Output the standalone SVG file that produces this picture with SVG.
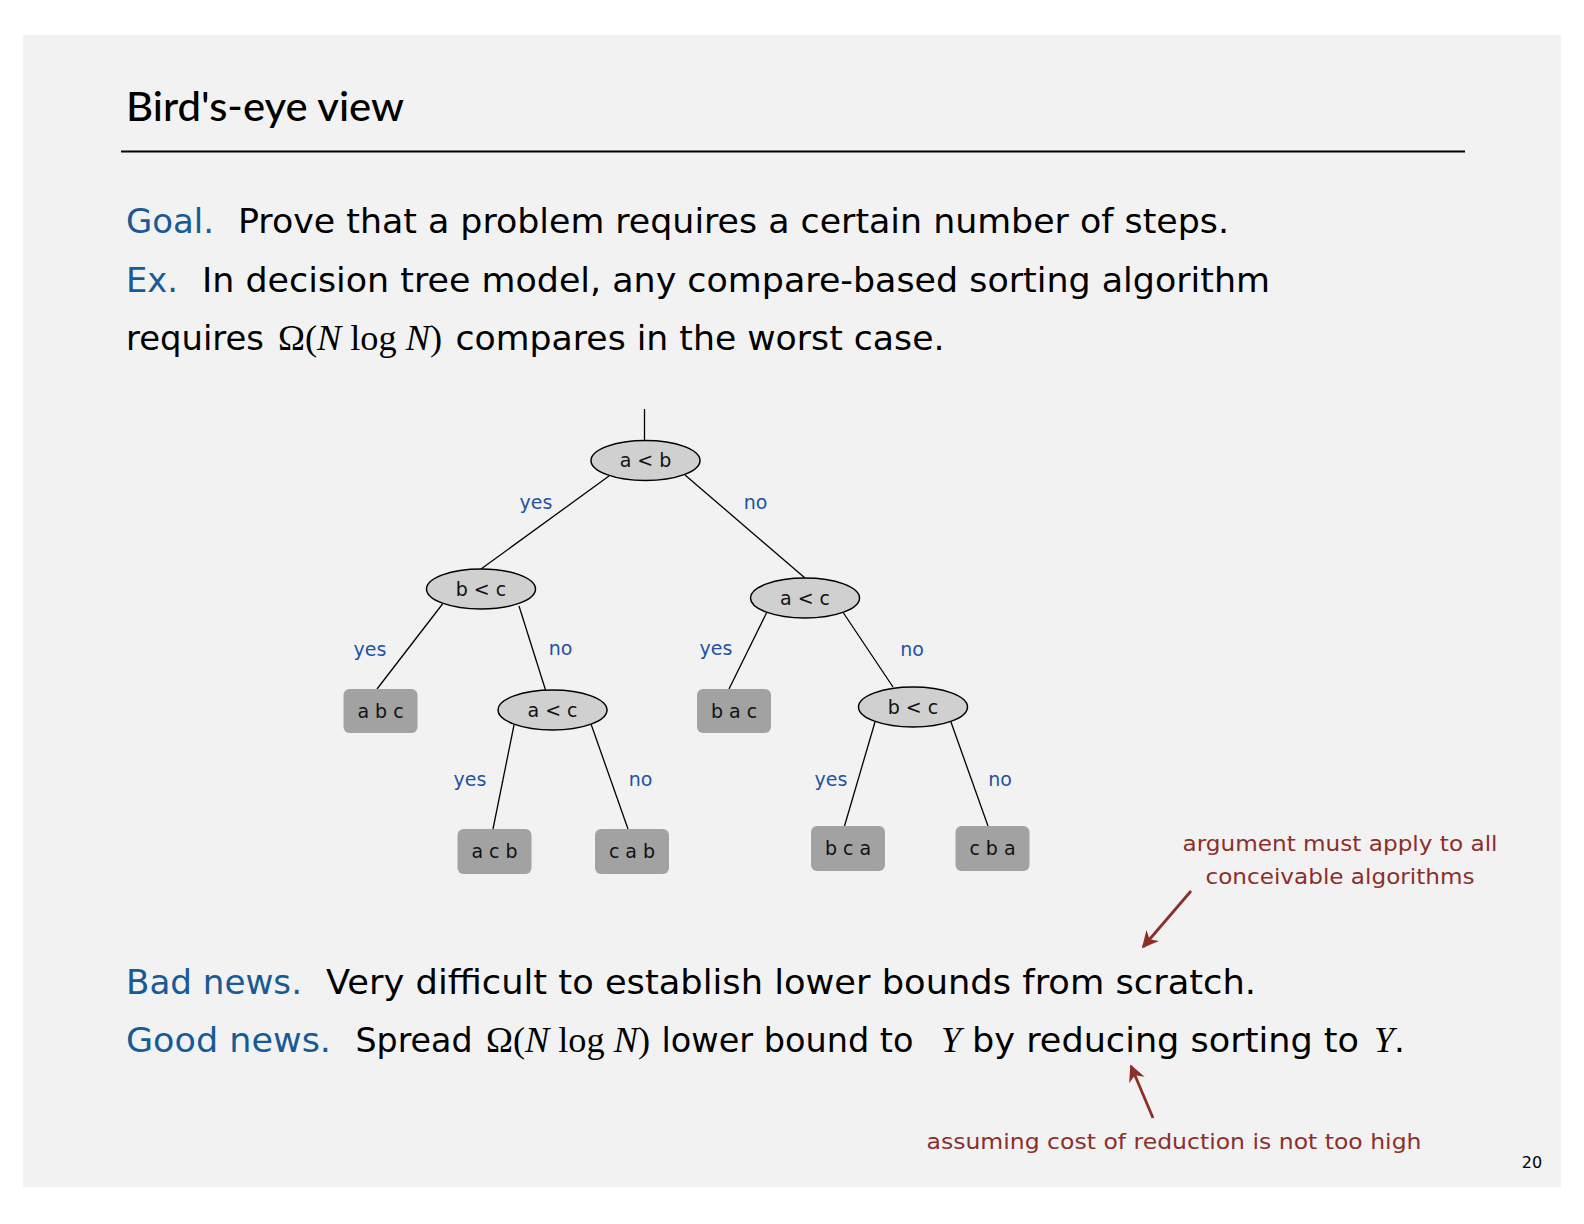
<svg xmlns="http://www.w3.org/2000/svg" width="1584" height="1224" viewBox="0 0 1584 1224">
<defs>
<style>
.body{font-family:"DejaVu Sans","Liberation Sans",sans-serif;font-size:34px;fill:#000}
.head{font-family:"DejaVu Sans","Liberation Sans",sans-serif;font-size:34px;fill:#175a96}
.math{font-family:"Liberation Serif","Times New Roman",serif;font-size:36px;fill:#000}
.lbl{font-family:"DejaVu Sans","Liberation Sans",sans-serif;font-size:19px;fill:#1f52a6;text-anchor:middle}
.nt{font-family:"DejaVu Sans","Liberation Sans",sans-serif;font-size:19px;fill:#111;text-anchor:middle}
.ann{font-family:"DejaVu Sans","Liberation Sans",sans-serif;font-size:22px;fill:#8c2f2a;text-anchor:middle}
.ell{fill:#d0d0d0;stroke:#000;stroke-width:1.5}
.leaf{fill:#a2a2a2}
.edge{stroke:#000;stroke-width:1.3;fill:none}
.arr{stroke:#8c2f2a;stroke-width:2.8;fill:none;marker-end:url(#ah)}
</style>
<marker id="ah" viewBox="0 0 10 10" refX="9" refY="5" markerWidth="6" markerHeight="6" orient="auto" markerUnits="strokeWidth">
<path d="M0,0 L10,5 L0,10 L3,5 z" fill="#8c2f2a"/>
</marker>
</defs>
<rect x="0" y="0" width="1584" height="1224" fill="#ffffff"/>
<rect x="23" y="35" width="1538" height="1152" fill="#f2f2f2"/>

<g id="title">
<text x="126" y="121" font-family="Lato,'Open Sans',sans-serif" font-size="40" font-weight="500" textLength="278" lengthAdjust="spacingAndGlyphs">Bird's-eye view</text>
<line x1="121" y1="151.5" x2="1465" y2="151.5" stroke="#000" stroke-width="2"/>
</g>

<g id="text-top">
<text class="head" x="126" y="233" textLength="88" lengthAdjust="spacingAndGlyphs">Goal.</text>
<text class="body" x="238" y="233" textLength="991" lengthAdjust="spacingAndGlyphs">Prove that a problem requires a certain number of steps.</text>
<text class="head" x="126" y="292" textLength="52" lengthAdjust="spacingAndGlyphs">Ex.</text>
<text class="body" x="202" y="292" textLength="1068" lengthAdjust="spacingAndGlyphs">In decision tree model, any compare-based sorting algorithm</text>
<text class="body" x="126" y="350" textLength="138" lengthAdjust="spacingAndGlyphs">requires</text>
<text class="math" x="278" y="350" textLength="164" lengthAdjust="spacingAndGlyphs">Ω(<tspan font-style="italic">N</tspan> log <tspan font-style="italic">N</tspan>)</text>
<text class="body" x="455.5" y="350" textLength="489" lengthAdjust="spacingAndGlyphs">compares in the worst case.</text>
</g>

<g id="connectors">
<line class="edge" x1="644.5" y1="409" x2="644.5" y2="440"/>
<line class="edge" x1="609" y1="476" x2="481" y2="569"/>
<line class="edge" x1="685" y1="475" x2="805" y2="578"/>
<line class="edge" x1="442.5" y1="604" x2="377" y2="689"/>
<line class="edge" x1="519" y1="606" x2="545.5" y2="690"/>
<line class="edge" x1="767" y1="612" x2="729" y2="689"/>
<line class="edge" x1="843.5" y1="613" x2="893" y2="687"/>
<line class="edge" x1="514" y1="725" x2="493" y2="829"/>
<line class="edge" x1="591" y1="724" x2="628" y2="829"/>
<line class="edge" x1="875" y1="722" x2="844.5" y2="826"/>
<line class="edge" x1="950.6" y1="721" x2="988" y2="826"/>
<text class="lbl" x="536" y="509">yes</text>
<text class="lbl" x="755.5" y="509">no</text>
<text class="lbl" x="370" y="656">yes</text>
<text class="lbl" x="560.5" y="655">no</text>
<text class="lbl" x="716" y="655">yes</text>
<text class="lbl" x="912" y="656">no</text>
<text class="lbl" x="470" y="786">yes</text>
<text class="lbl" x="640.5" y="786">no</text>
<text class="lbl" x="831" y="786">yes</text>
<text class="lbl" x="1000" y="786">no</text>
</g>

<g id="n-root"><ellipse class="ell" cx="645.5" cy="460.5" rx="54.5" ry="20"/><text class="nt" x="645.5" y="467">a &lt; b</text></g>
<g id="n-bc1"><ellipse class="ell" cx="481" cy="589" rx="54.5" ry="20"/><text class="nt" x="481" y="595.5">b &lt; c</text></g>
<g id="n-ac1"><ellipse class="ell" cx="805" cy="598" rx="54.5" ry="20"/><text class="nt" x="805" y="604.5">a &lt; c</text></g>
<g id="n-ac2"><ellipse class="ell" cx="552.5" cy="710" rx="54.5" ry="20"/><text class="nt" x="552.5" y="716.5">a &lt; c</text></g>
<g id="n-bc2"><ellipse class="ell" cx="913" cy="707" rx="54.5" ry="20"/><text class="nt" x="913" y="713.5">b &lt; c</text></g>

<g id="l-abc"><rect class="leaf" x="343.5" y="689" width="74" height="44" rx="6"/><text class="nt" x="380.5" y="717.5">a b c</text></g>
<g id="l-bac"><rect class="leaf" x="697" y="689" width="74" height="44" rx="6"/><text class="nt" x="734" y="717.5">b a c</text></g>
<g id="l-acb"><rect class="leaf" x="457.5" y="829" width="74" height="45" rx="6"/><text class="nt" x="494.5" y="858">a c b</text></g>
<g id="l-cab"><rect class="leaf" x="595" y="829" width="74" height="45" rx="6"/><text class="nt" x="632" y="858">c a b</text></g>
<g id="l-bca"><rect class="leaf" x="811" y="826" width="74" height="45" rx="6"/><text class="nt" x="848" y="855">b c a</text></g>
<g id="l-cba"><rect class="leaf" x="955.5" y="826" width="74" height="45" rx="6"/><text class="nt" x="992.5" y="855">c b a</text></g>

<g id="annotations">
<text class="ann" x="1340" y="851" textLength="315" lengthAdjust="spacingAndGlyphs">argument must apply to all</text>
<text class="ann" x="1340" y="884" textLength="269" lengthAdjust="spacingAndGlyphs">conceivable algorithms</text>
<line class="arr" x1="1191" y1="891" x2="1143" y2="947"/>
<line class="arr" x1="1153" y1="1118" x2="1131" y2="1066"/>
<text class="ann" x="1174" y="1149" textLength="495" lengthAdjust="spacingAndGlyphs">assuming cost of reduction is not too high</text>
</g>

<g id="text-bottom">
<text class="head" x="126" y="994" textLength="176" lengthAdjust="spacingAndGlyphs">Bad news.</text>
<text class="body" x="326" y="994" textLength="930" lengthAdjust="spacingAndGlyphs">Very difficult to establish lower bounds from scratch.</text>
<text class="head" x="126" y="1052" textLength="205" lengthAdjust="spacingAndGlyphs">Good news.</text>
<text class="body" x="355.5" y="1052" textLength="117" lengthAdjust="spacingAndGlyphs">Spread</text>
<text class="math" x="486" y="1052" textLength="164" lengthAdjust="spacingAndGlyphs">Ω(<tspan font-style="italic">N</tspan> log <tspan font-style="italic">N</tspan>)</text>
<text class="body" x="661.5" y="1052" textLength="252" lengthAdjust="spacingAndGlyphs">lower bound to</text>
<text class="math" x="941" y="1052" font-style="italic">Y</text>
<text class="body" x="972" y="1052" textLength="387" lengthAdjust="spacingAndGlyphs">by reducing sorting to</text>
<text class="math" x="1374" y="1052" font-style="italic">Y</text>
<text class="body" x="1394" y="1052">.</text>
</g>

<text x="1532" y="1168" font-family="'DejaVu Sans',sans-serif" font-size="16" text-anchor="middle" fill="#000">20</text>
</svg>
